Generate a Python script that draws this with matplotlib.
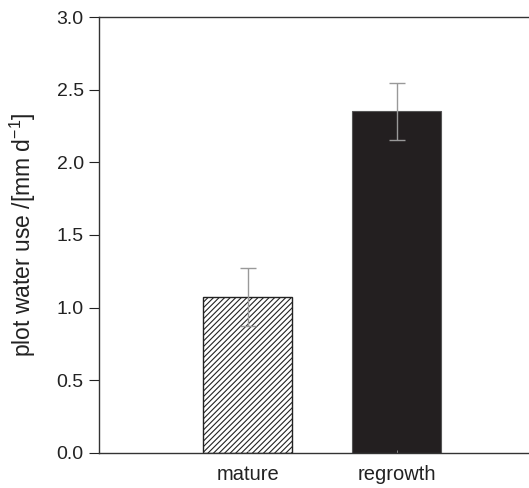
import numpy as np
from matplotlib import pyplot as plt

plt.rcParams["font.family"] = ["Liberation Sans", "DejaVu Sans"]
plt.rcParams["hatch.linewidth"] = 0.8
plt.rcParams["hatch.color"] = "#222222"

groups = ["mature", "regrowth"]
water_use = [1.07, 2.35]
errors = [0.20, 0.195]


def main():
    fig = plt.figure(figsize=(5.29, 4.88), dpi=100)
    ax = fig.add_axes([0.187, 0.072, 0.83, 0.893])

    x = np.arange(1, len(groups) + 1)
    ax.bar(x[0], water_use[0], width=0.6, color="white", edgecolor="#222222",
           linewidth=1.0, hatch="//////")
    ax.bar(x[1], water_use[1], width=0.6, color="#231f20", edgecolor="#555555",
           linewidth=0.8)
    ax.errorbar(x, water_use, yerr=errors, fmt="none", ecolor="#999999",
                elinewidth=1.0, capsize=5.5, capthick=1.0)

    ax.set_xlim(0, 2.95)
    ax.set_ylim(0, 3.0)
    ax.set_yticks(np.arange(0, 3.01, 0.5))
    ax.set_yticklabels(["{:.1f}".format(v) for v in np.arange(0, 3.01, 0.5)])
    ax.set_xticks(x)
    ax.set_xticklabels(groups)
    ax.tick_params(axis="y", direction="out", length=7, width=0.8,
                   colors="#222222", labelsize=14, pad=4)
    ax.tick_params(axis="x", direction="in", length=2, width=0.6,
                   color="#999999", labelcolor="#222222", labelsize=14.5, pad=9)

    ax.set_ylabel("plot water use /[mm d$^{\\mathregular{-1}}$]", fontsize=16.5,
                  color="#222222", labelpad=13)

    for side in ["left", "top", "bottom"]:
        ax.spines[side].set_color("#333333")
        ax.spines[side].set_linewidth(1.0)
    ax.spines["right"].set_visible(False)

    fig.savefig("out.png", dpi=100)


if __name__ == '__main__':
    main()
